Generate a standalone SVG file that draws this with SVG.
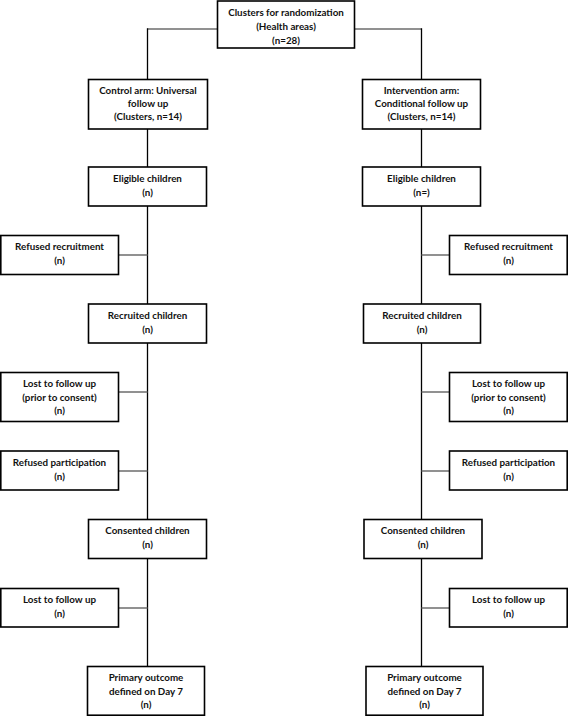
<svg xmlns="http://www.w3.org/2000/svg" width="568" height="716" viewBox="0 0 568 716">
<style>
.box{fill:#fff;stroke:#000;stroke-width:1.6}
.v{stroke:#000;stroke-width:1.3;fill:none}
.h{stroke:#6e6e6e;stroke-width:1.6;fill:none}
text{font-family:Lato,"Liberation Sans",sans-serif;font-weight:bold;font-size:9.8px;text-anchor:middle;fill:#111}
</style>
<rect width="568" height="716" fill="#fff"/>
<g id="connectors">
<path class="h" d="M147.5 29H217.5M354.5 29H421.5"/>
<path class="v" d="M147.5 28.3V666.5M421.5 28.3V666.5"/>
<path class="h" d="M118.5 255H147.5M118.5 392H147.5M118.5 471H147.5M118.5 608H147.5"/>
<path class="h" d="M421.5 255H449.5M421.5 392H449.5M421.5 471H449.5M421.5 608H449.5"/>
</g>
<g id="top">
<rect class="box" x="217.5" y="1" width="137" height="47"/>
<text x="286" y="16.2">Clusters for randomization</text>
<text x="286" y="30.2">(Health areas)</text>
<text x="286" y="44.2">(n=28)</text>
</g>
<g id="control-arm">
<rect class="box" x="88.5" y="79.5" width="119" height="49.5"/>
<text x="148" y="93.5">Control arm: Universal</text>
<text x="148" y="106.8">follow up</text>
<text x="148" y="120.2">(Clusters, n=14)</text>
</g>
<g id="intervention-arm">
<rect class="box" x="362.5" y="79.5" width="118" height="49.5"/>
<text x="421.5" y="93.5">Intervention arm:</text>
<text x="421.5" y="106.8">Conditional follow up</text>
<text x="421.5" y="120.2">(Clusters, n=14)</text>
</g>
<g id="eligible-left">
<rect class="box" x="88.5" y="167" width="118" height="39"/>
<text x="147.5" y="181.8">Eligible children</text>
<text x="147.5" y="195.8">(n)</text>
</g>
<g id="eligible-right">
<rect class="box" x="362.5" y="167" width="118" height="39"/>
<text x="421.5" y="181.8">Eligible children</text>
<text x="421.5" y="195.8">(n=)</text>
</g>
<g id="refused-recruitment-left">
<rect class="box" x="0.8" y="235.5" width="117.7" height="39"/>
<text x="59.5" y="250.3">Refused recruitment</text>
<text x="59.5" y="264.3">(n)</text>
</g>
<g id="refused-recruitment-right">
<rect class="box" x="449.5" y="235.5" width="117.7" height="39"/>
<text x="508.5" y="250.3">Refused recruitment</text>
<text x="508.5" y="264.3">(n)</text>
</g>
<g id="recruited-left">
<rect class="box" x="88.5" y="304" width="118" height="39"/>
<text x="147.5" y="318.8">Recruited children</text>
<text x="147.5" y="332.8">(n)</text>
</g>
<g id="recruited-right">
<rect class="box" x="363.5" y="304" width="117" height="39"/>
<text x="422" y="318.8">Recruited children</text>
<text x="422" y="332.8">(n)</text>
</g>
<g id="lost-prior-left">
<rect class="box" x="0.8" y="372.5" width="117.7" height="49"/>
<text x="59.5" y="387.2">Lost to follow up</text>
<text x="59.5" y="400.7">(prior to consent)</text>
<text x="59.5" y="414.2">(n)</text>
</g>
<g id="lost-prior-right">
<rect class="box" x="449.5" y="372.5" width="117.7" height="49"/>
<text x="508.5" y="387.2">Lost to follow up</text>
<text x="508.5" y="400.7">(prior to consent)</text>
<text x="508.5" y="414.2">(n)</text>
</g>
<g id="refused-participation-left">
<rect class="box" x="0.8" y="451" width="117.7" height="39"/>
<text x="59.5" y="465.8">Refused participation</text>
<text x="59.5" y="479.8">(n)</text>
</g>
<g id="refused-participation-right">
<rect class="box" x="449.5" y="451" width="117.7" height="39"/>
<text x="508.5" y="465.8">Refused participation</text>
<text x="508.5" y="479.8">(n)</text>
</g>
<g id="consented-left">
<rect class="box" x="88.5" y="519.5" width="118" height="39"/>
<text x="147.5" y="534.3">Consented children</text>
<text x="147.5" y="548.3">(n)</text>
</g>
<g id="consented-right">
<rect class="box" x="364" y="519.5" width="118" height="39"/>
<text x="423" y="534.3">Consented children</text>
<text x="423" y="548.3">(n)</text>
</g>
<g id="lost-left">
<rect class="box" x="0.8" y="588.5" width="117.7" height="38.5"/>
<text x="59.5" y="603">Lost to follow up</text>
<text x="59.5" y="617">(n)</text>
</g>
<g id="lost-right">
<rect class="box" x="449.5" y="588.5" width="117.7" height="38.5"/>
<text x="508.5" y="603">Lost to follow up</text>
<text x="508.5" y="617">(n)</text>
</g>
<g id="primary-left">
<rect class="box" x="87.5" y="666.5" width="117" height="48.7"/>
<text x="146" y="681.2">Primary outcome</text>
<text x="146" y="694.7">defined on Day 7</text>
<text x="146" y="708.2">(n)</text>
</g>
<g id="primary-right">
<rect class="box" x="366" y="666.5" width="117" height="48.7"/>
<text x="424.5" y="681.2">Primary outcome</text>
<text x="424.5" y="694.7">defined on Day 7</text>
<text x="424.5" y="708.2">(n)</text>
</g>
</svg>
